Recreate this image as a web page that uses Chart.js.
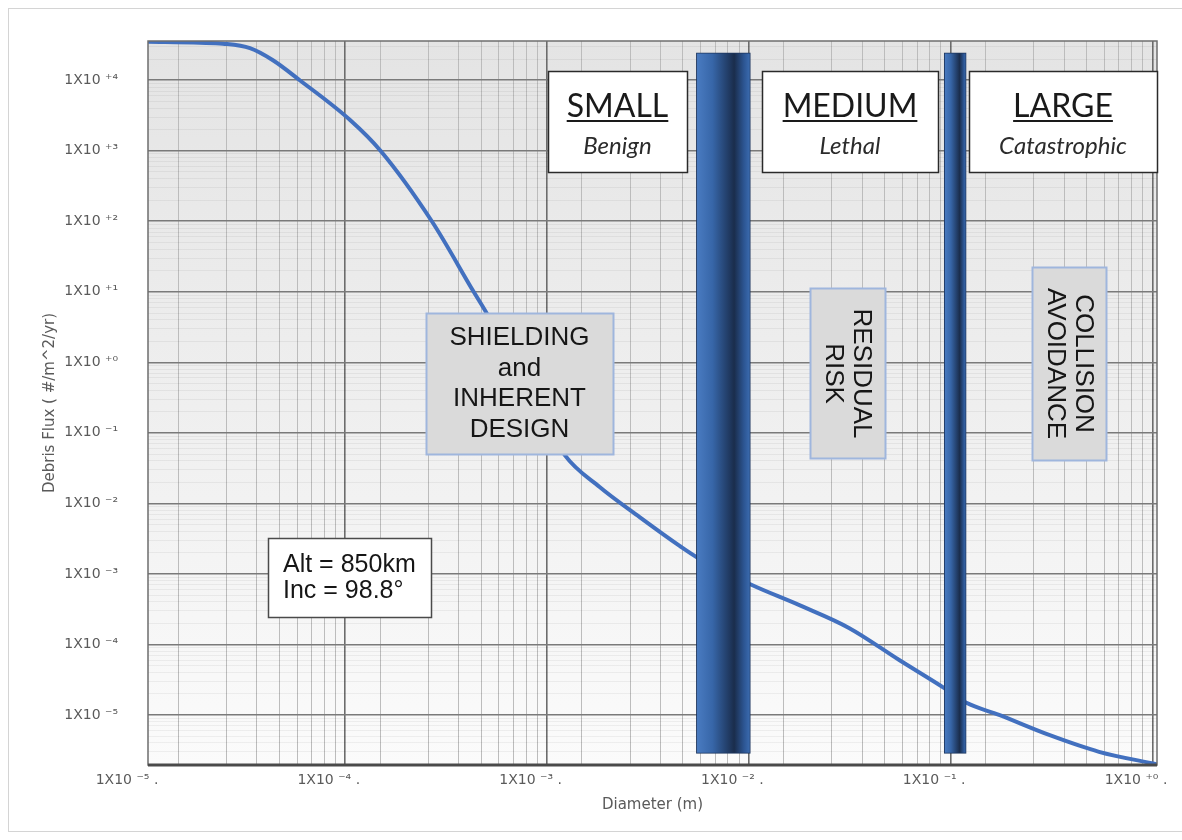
<!DOCTYPE html>
<html>
<head>
<meta charset="utf-8">
<title>Debris Flux vs Diameter</title>
<script src="https://cdn.jsdelivr.net/npm/chart.js@4/dist/chart.umd.min.js"></script>
<style>
  html, body { margin: 0; padding: 0; background: #ffffff; }
  #wrap { width: 1182px; height: 840px; position: relative; }
</style>
</head>
<body>
<div id="wrap"><canvas id="chart" width="1182" height="840"></canvas></div>
<script>
// Debris flux curve (Alt = 850 km, Inc = 98.8°)
const diameters = [1e-5, 1.81e-5, 2.35e-5, 3.2e-5, 4.16e-5, 5.65e-5, 1e-4, 1.42e-4, 2.55e-4, 4.11e-4, 4.76e-4,
                   1.16e-3, 1.73e-3, 2.73e-3, 4.31e-3, 5.22e-3, 9.77e-3, 1.69e-2, 2.99e-2, 5.28e-2, 8.83e-2,
                   0.113, 0.165, 0.292, 0.516, 1.0];
const debrisFlux = [3.5e4, 3.4e4, 3.3e4, 2.85e4, 1.92e4, 1.0e4, 2.75e3, 1.0e3, 1.0e2, 10, 5.0,
                    0.0488, 0.0171, 6.4e-3, 2.5e-3, 1.74e-3, 7e-4, 3.6e-4, 1.7e-4, 6e-5, 2.4e-5,
                    1.5e-5, 1.0e-5, 5.2e-6, 3.0e-6, 2.0e-6];

// Size-regime boundaries (1 cm and 10 cm) shown as vertical bars
const boundaryDiameters = [7.1e-3, 0.1];
const boundaryLow = [2.85e-6, 2.85e-6];
const boundaryHigh = [2.45e4, 2.45e4];

// Axis decades and their labels
const xDecades = [-5, -4, -3, -2, -1, 0];
const xTickLabels = ['1X10 \u207B\u2075 .', '1X10 \u207B\u2074 .', '1X10 \u207B\u00B3 .', '1X10 \u207B\u00B2 .', '1X10 \u207B\u00B9 .', '1X10 \u207A\u2070 .'];
const yDecades = [4, 3, 2, 1, 0, -1, -2, -3, -4, -5];
const yTickLabels = ['1X10 \u207A\u2074', '1X10 \u207A\u00B3', '1X10 \u207A\u00B2', '1X10 \u207A\u00B9', '1X10 \u207A\u2070',
                     '1X10 \u207B\u00B9', '1X10 \u207B\u00B2', '1X10 \u207B\u00B3', '1X10 \u207B\u2074', '1X10 \u207B\u2075'];

const X_MIN = 1e-5, X_MAX = 1;
const Y_MIN = 1.95e-6, Y_MAX = 3.6e4;

// 1..9 x 10^n ticks covering [min, max]; powers of ten are major
function logTicks(min, max) {
  const out = [];
  for (let e = Math.floor(Math.log10(min)); e <= Math.ceil(Math.log10(max)); e++) {
    for (let m = 1; m <= 9; m++) {
      const v = m * Math.pow(10, e);
      if (v >= min * 0.9999 && v <= max * 1.0001) out.push({ value: v, major: m === 1 });
    }
  }
  return out;
}

function labelFor(value, decades, labels) {
  const e = Math.round(Math.log10(value));
  const i = decades.indexOf(e);
  return i >= 0 ? labels[i] : '';
}

const tickFont = { family: 'DejaVu Sans', size: 14 };
const titleFont = { family: 'DejaVu Sans', size: 15 };
const tickColor = '#5a5a5a';

function cylinderFill(stops) {
  return (ctx) => {
    const chart = ctx.chart;
    if (!chart.chartArea || !ctx.raw) return stops[0][1];
    const cx = chart.scales.x.getPixelForValue(ctx.raw.x);
    const half = ctx.dataset.barThickness / 2;
    const g = chart.ctx.createLinearGradient(cx - half, 0, cx + half, 0);
    stops.forEach(([o, c]) => g.addColorStop(o, c));
    return g;
  };
}

const barStops = [[0, '#4a7cc2'], [0.3, '#3766a8'], [0.55, '#24426f'], [0.7, '#1a2d4c'], [0.88, '#2c5592'], [1, '#3c6db2']];

// Plot background: soft grey fading to near white
const plotBackground = {
  id: 'plotBackground',
  beforeDraw(chart) {
    const { ctx, chartArea: a } = chart;
    ctx.save();
    // outer frame of the figure
    ctx.strokeStyle = '#d4d4d4';
    ctx.lineWidth = 1;
    ctx.strokeRect(8.5, 8.5, 1180, 823);
    const g = ctx.createLinearGradient(0, a.top, 0, a.bottom);
    g.addColorStop(0, '#e4e4e4');
    g.addColorStop(0.55, '#f0f0f0');
    g.addColorStop(1, '#fbfbfb');
    ctx.fillStyle = g;
    ctx.fillRect(a.left, a.top, a.right - a.left, a.bottom - a.top);
    ctx.restore();
  }
};

function drawBox(ctx, x, y, w, h, fill, stroke, lw) {
  ctx.fillStyle = fill;
  ctx.fillRect(x, y, w, h);
  ctx.strokeStyle = stroke;
  ctx.lineWidth = lw;
  ctx.strokeRect(x, y, w, h);
}

// Regime labels and callout boxes drawn over the plot
const annotations = {
  id: 'annotations',
  afterDraw(chart) {
    const { ctx, chartArea: a } = chart;
    ctx.save();

    // plot frame
    ctx.strokeStyle = '#6e6e6e';
    ctx.lineWidth = 1.5;
    ctx.strokeRect(a.left, a.top, a.right - a.left, a.bottom - a.top);
    ctx.strokeStyle = '#4a4a4a';
    ctx.lineWidth = 3;
    ctx.beginPath();
    ctx.moveTo(a.left, a.bottom);
    ctx.lineTo(a.right, a.bottom);
    ctx.stroke();

    // size regime headers
    const headers = [
      { x: 548, w: 139, title: 'SMALL', sub: 'Benign' },
      { x: 762, w: 176, title: 'MEDIUM', sub: 'Lethal' },
      { x: 969, w: 188, title: 'LARGE', sub: 'Catastrophic' }
    ];
    headers.forEach(hd => {
      drawBox(ctx, hd.x + 0.5, 71.5, hd.w, 101, '#ffffff', '#2a2a2a', 1.5);
      const cx = hd.x + hd.w / 2;
      ctx.fillStyle = '#1a1a1a';
      ctx.textAlign = 'center';
      ctx.textBaseline = 'alphabetic';
      ctx.font = '32px Lato';
      ctx.fillText(hd.title, cx, 117);
      const tw = ctx.measureText(hd.title).width;
      ctx.fillRect(cx - tw / 2, 120, tw, 2);
      ctx.fillStyle = '#2b2b2b';
      ctx.font = 'italic 24px Lato';
      ctx.fillText(hd.sub, cx, 154);
    });

    // mitigation callouts
    const grey = '#dadada', blueEdge = '#9fb6dd';
    drawBox(ctx, 426.5, 313.5, 187, 141, grey, blueEdge, 2);
    ctx.fillStyle = '#161616';
    ctx.font = '26px "Liberation Sans"';
    ctx.textAlign = 'center';
    ctx.textBaseline = 'alphabetic';
    ['SHIELDING', 'and', 'INHERENT', 'DESIGN'].forEach((t, i) => ctx.fillText(t, 519.5, 345 + i * 30.7));

    function vertical(cx, cy, lines) {
      ctx.save();
      ctx.translate(cx, cy);
      ctx.rotate(Math.PI / 2);
      ctx.fillStyle = '#161616';
      ctx.font = '26px "Liberation Sans"';
      ctx.textAlign = 'center';
      ctx.textBaseline = 'middle';
      const step = 28.5;
      lines.forEach((t, i) => ctx.fillText(t, 0, (i - (lines.length - 1) / 2) * step + 1));
      ctx.restore();
    }
    drawBox(ctx, 810.5, 288.5, 75, 170, grey, blueEdge, 2);
    vertical(848, 373.5, ['RESIDUAL', 'RISK']);
    drawBox(ctx, 1032.5, 267.5, 74, 193, grey, blueEdge, 2);
    vertical(1070, 363.5, ['COLLISION', 'AVOIDANCE']);

    // orbit parameters
    drawBox(ctx, 268.5, 538.5, 163, 79, '#ffffff', '#4a4a4a', 1.5);
    ctx.fillStyle = '#161616';
    ctx.font = '25px "Liberation Sans"';
    ctx.textAlign = 'left';
    ctx.textBaseline = 'alphabetic';
    ctx.fillText('Alt = 850km', 283, 572);
    ctx.fillText('Inc = 98.8\u00B0', 283, 598);

    ctx.restore();
  }
};

new Chart(document.getElementById('chart'), {
  type: 'line',
  data: {
    datasets: [
      {
        type: 'line',
        label: 'Debris flux',
        data: diameters.map((d, i) => ({ x: d, y: debrisFlux[i] })),
        borderColor: '#4270bf',
        borderWidth: 4,
        pointRadius: 0,
        cubicInterpolationMode: 'monotone',
        fill: false,
        order: 2
      },
      {
        type: 'bar',
        label: '1 cm',
        data: [{ x: boundaryDiameters[0], y: [boundaryLow[0], boundaryHigh[0]] }],
        barThickness: 54,
        grouped: false,
        backgroundColor: cylinderFill(barStops),
        borderColor: '#1c355e',
        borderWidth: 1,
        borderSkipped: false,
        order: 1
      },
      {
        type: 'bar',
        label: '10 cm',
        data: [{ x: boundaryDiameters[1], y: [boundaryLow[1], boundaryHigh[1]] }],
        barThickness: 22,
        grouped: false,
        backgroundColor: cylinderFill(barStops),
        borderColor: '#1c355e',
        borderWidth: 1,
        borderSkipped: false,
        order: 1
      }
    ]
  },
  options: {
    responsive: false,
    animation: false,
    devicePixelRatio: 1,
    layout: { padding: { left: 0, right: 25, top: 41, bottom: 0 } },
    plugins: { legend: { display: false }, tooltip: { enabled: false } },
    scales: {
      x: {
        type: 'logarithmic',
        min: X_MIN,
        max: X_MAX,
        offset: false,
        afterBuildTicks: (scale) => { scale.ticks = logTicks(X_MIN, X_MAX); },
        afterFit: (scale) => { scale.height = 75; scale.paddingLeft = 0; scale.paddingRight = 0; },
        ticks: {
          autoSkip: false,
          maxRotation: 0,
          minRotation: 0,
          padding: 7,
          labelOffset: -21,
          font: tickFont,
          color: tickColor,
          callback: (v, i, ticks) => ticks[i].major ? labelFor(v, xDecades, xTickLabels) : ''
        },
        grid: {
          drawTicks: false,
          color: (c) => c.tick && c.tick.major ? '#6c6c6c' : '#bcbcbc',
          lineWidth: (c) => c.tick && c.tick.major ? 1.6 : 1
        },
        border: { display: false },
        title: {
          display: true,
          text: 'Diameter (m)',
          color: tickColor,
          font: titleFont,
          padding: { top: 0, bottom: 26 }
        }
      },
      y: {
        type: 'logarithmic',
        min: Y_MIN,
        max: Y_MAX,
        afterBuildTicks: (scale) => { scale.ticks = logTicks(Y_MIN, Y_MAX); },
        afterFit: (scale) => { scale.width = 148; scale.paddingTop = 0; scale.paddingBottom = 0; },
        ticks: {
          autoSkip: false,
          padding: 30,
          font: tickFont,
          color: tickColor,
          callback: (v, i, ticks) => ticks[i].major ? labelFor(v, yDecades, yTickLabels) : ''
        },
        grid: {
          drawTicks: false,
          color: (c) => c.tick && c.tick.major ? '#7a7a7a' : 'rgba(0,0,0,0.05)',
          lineWidth: (c) => c.tick && c.tick.major ? 1.6 : 1
        },
        border: { display: false },
        title: {
          display: true,
          text: 'Debris Flux ( #/m^2/yr)',
          color: tickColor,
          font: titleFont,
          padding: { top: 41, bottom: 0 }
        }
      }
    }
  },
  plugins: [plotBackground, annotations]
});
</script>
</body>
</html>
